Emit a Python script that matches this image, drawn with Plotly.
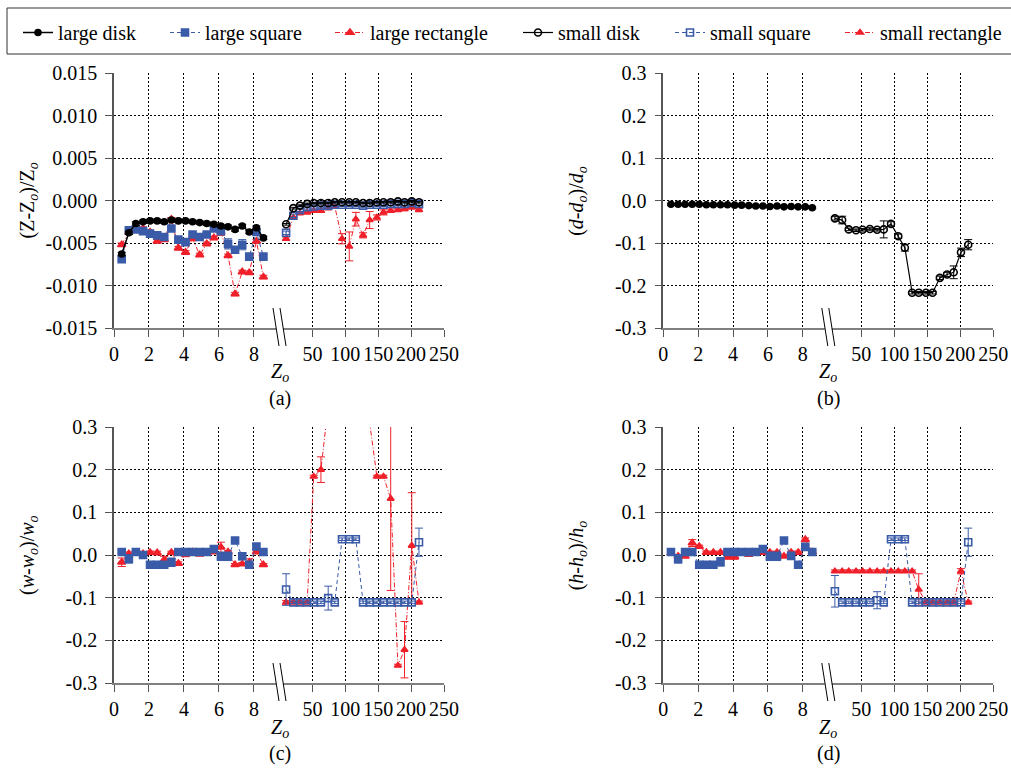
import plotly.graph_objects as go

W, H = 1011, 768
FONT = "Liberation Serif, Times New Roman, DejaVu Serif, serif"

BLACK = "#000000"
BLUE = "#3a5ba8"
RED = "#f0202a"

# ---- Z_o positions ----------------------------------------------------------
z_large = [0.44, 0.85, 1.25, 1.66, 2.06, 2.47, 2.87, 3.28, 3.68, 4.09, 4.49,
           4.90, 5.30, 5.71, 6.11, 6.52, 6.92, 7.33, 7.73, 8.14, 8.54]
z_small = [10, 21, 31, 42, 52, 63, 74, 84, 95, 106, 116, 127, 137, 148, 158,
           169, 180, 190, 201, 212]

# ---- (a) relative change of Z ---------------------------------------------
a_large_disk = [-0.0063, -0.0038, -0.0027, -0.0025, -0.0024, -0.0024, -0.0025,
                -0.0023, -0.0024, -0.0024, -0.0025, -0.0026, -0.0027, -0.0028,
                -0.0030, -0.0031, -0.0034, -0.0030, -0.0037, -0.0032, -0.0044]
a_large_disk_err = [0.0002] * 21
a_large_square = [-0.0069, -0.0035, -0.0034, -0.0036, -0.0039, -0.0041, -0.0043,
                  -0.0033, -0.0046, -0.0049, -0.0040, -0.0043, -0.0040, -0.0033,
                  -0.0036, -0.0051, -0.0058, -0.0052, -0.0066, -0.0037, -0.0066]
a_large_square_err = [0.0002, 0.0002, 0.0002, 0.0002, 0.0002, 0.0002, 0.0002,
                      0.0002, 0.0002, 0.0002, 0.0002, 0.0002, 0.0002, 0.0002,
                      0.0002, 0.0006, 0.0002, 0.0006, 0.0002, 0.0002, 0.0002]
a_large_rect = [-0.0052, -0.0037, -0.0035, -0.0033, -0.0037, -0.0048, -0.0046,
                -0.0022, -0.0056, -0.0061, -0.0045, -0.0064, -0.0051, -0.0044,
                -0.0037, -0.0065, -0.0110, -0.0084, -0.0085, -0.0048, -0.0090]
a_large_rect_err = [0.0002, 0.0002, 0.0002, 0.0002, 0.0002, 0.0002, 0.0002,
                    0.0002, 0.0002, 0.0002, 0.0002, 0.0002, 0.0002, 0.0002,
                    0.0004, 0.0002, 0.0002, 0.0002, 0.0002, 0.0002, 0.0002]
a_small_disk = [-0.0028, -0.0009, -0.0006, -0.0004, -0.0003, -0.0003, -0.0003,
                -0.0002, -0.0002, -0.0002, -0.0002, -0.0003, -0.0003, -0.0002,
                -0.0002, -0.0002, -0.0001, -0.0002, -0.0001, -0.0002]
a_small_disk_err = [0.0001] * 20
a_small_square = [-0.0038, -0.0018, -0.0011, -0.0008, -0.0007, -0.0006, -0.0006,
                  -0.0005, -0.0005, -0.0005, -0.0005, -0.0006, -0.0005, -0.0005,
                  -0.0005, -0.0004, -0.0004, -0.0004, -0.0003, -0.0004]
a_small_square_err = [0.0002] * 20
a_small_rect = [-0.0045, -0.0020, -0.0015, -0.0014, -0.0012, -0.0012, -0.0009,
                -0.0007, -0.0045, -0.0054, -0.0022, -0.0041, -0.0023, -0.0020,
                -0.0014, -0.0012, -0.0011, -0.0010, -0.0008, -0.0011]
a_small_rect_err = [0.0002, 0.0001, 0.0001, 0.0001, 0.0001, 0.0002, 0.0001,
                    0.0001, 0.0006, 0.0017, 0.0008, 0.0003, 0.0010, 0.0003,
                    0.0003, 0.0002, 0.0002, 0.0002, 0.0002, 0.0002]

# ---- (b) relative change of d ---------------------------------------------
b_large_disk = [-0.009, -0.009, -0.009, -0.009, -0.009, -0.010, -0.010, -0.010,
                -0.010, -0.011, -0.011, -0.012, -0.013, -0.013, -0.014, -0.013,
                -0.015, -0.014, -0.015, -0.015, -0.017]
b_large_disk_err = [0.002] * 21
b_small_disk = [-0.042, -0.046, -0.068, -0.070, -0.069, -0.067, -0.069, -0.068,
                -0.055, -0.084, -0.111, -0.217, -0.217, -0.217, -0.217, -0.182,
                -0.174, -0.169, -0.122, -0.104]
b_small_disk_err = [0.004, 0.009, 0.003, 0.003, 0.003, 0.003, 0.003, 0.020,
                    0.005, 0.005, 0.008, 0.003, 0.003, 0.003, 0.003, 0.004,
                    0.005, 0.015, 0.010, 0.012]

# ---- (c) relative change of w ---------------------------------------------
c_large_square = [0.007, -0.009, 0.007, 0.000, -0.023, -0.023, -0.023, -0.017,
                  0.007, 0.007, 0.007, 0.007, 0.007, 0.014, -0.003, -0.003,
                  0.034, -0.003, -0.023, 0.020, 0.007]
c_large_square_err = [0.004, 0.010, 0.003, 0.003, 0.003, 0.003, 0.003, 0.010,
                      0.003, 0.003, 0.003, 0.003, 0.003, 0.004, 0.010, 0.010,
                      0.006, 0.008, 0.003, 0.006, 0.003]
c_large_rect = [-0.017, 0.003, 0.004, 0.003, 0.006, 0.005, -0.011, 0.006,
                -0.020, 0.001, 0.007, 0.002, 0.004, 0.007, 0.018, 0.007,
                -0.023, -0.021, -0.017, 0.007, -0.023]
c_large_rect_err = [0.010, 0.004, 0.004, 0.003, 0.003, 0.004, 0.008, 0.003,
                    0.004, 0.005, 0.003, 0.003, 0.003, 0.003, 0.012, 0.003,
                    0.003, 0.003, 0.008, 0.003, 0.003]
c_small_square = [-0.081, -0.111, -0.111, -0.111, -0.111, -0.111, -0.101, -0.111,
                  0.037, 0.037, 0.037, -0.111, -0.111, -0.111, -0.111, -0.111,
                  -0.111, -0.111, -0.111, 0.030]
c_small_square_err = [0.037, 0.003, 0.003, 0.003, 0.003, 0.003, 0.028, 0.003,
                      0.003, 0.003, 0.003, 0.003, 0.003, 0.003, 0.003, 0.003,
                      0.003, 0.003, 0.003, 0.033]
c_small_rect = [-0.111, -0.111, -0.111, -0.111, 0.184, 0.200, 0.350, 0.400,
                0.400, 0.400, 0.380, 0.350, 0.310, 0.184, 0.184, 0.132,
                -0.259, -0.222, 0.022, -0.111]
c_small_rect_err = [0.004, 0.003, 0.003, 0.003, 0.003, 0.030, 0.003, 0.003,
                    0.003, 0.003, 0.003, 0.003, 0.003, 0.003, 0.003, 0.215,
                    0.003, 0.066, 0.124, 0.003]

# ---- (d) relative change of h ---------------------------------------------
d_large_square = [0.007, -0.009, 0.007, 0.007, -0.023, -0.023, -0.023, -0.016,
                  0.007, 0.007, 0.007, 0.007, 0.007, 0.014, -0.003, -0.003,
                  0.034, -0.002, -0.023, 0.019, 0.007]
d_large_square_err = [0.003, 0.010, 0.003, 0.004, 0.003, 0.003, 0.003, 0.010,
                      0.003, 0.003, 0.003, 0.003, 0.003, 0.008, 0.010, 0.010,
                      0.006, 0.008, 0.003, 0.006, 0.003]
d_large_rect = [0.005, -0.003, -0.003, 0.028, 0.020, 0.006, 0.006, 0.006,
                -0.004, -0.004, 0.006, 0.001, 0.006, 0.006, 0.006, 0.006,
                -0.003, 0.006, 0.006, 0.036, 0.007]
d_large_rect_err = [0.003, 0.004, 0.003, 0.008, 0.003, 0.003, 0.003, 0.003,
                    0.006, 0.006, 0.003, 0.004, 0.003, 0.003, 0.003, 0.003,
                    0.003, 0.003, 0.003, 0.004, 0.003]
d_small_square = [-0.085, -0.111, -0.111, -0.111, -0.111, -0.111, -0.106, -0.111,
                  0.037, 0.037, 0.037, -0.111, -0.111, -0.111, -0.111, -0.111,
                  -0.111, -0.111, -0.111, 0.030]
d_small_square_err = [0.037, 0.003, 0.003, 0.003, 0.003, 0.003, 0.020, 0.003,
                      0.003, 0.003, 0.003, 0.003, 0.003, 0.003, 0.003, 0.003,
                      0.003, 0.003, 0.003, 0.033]
d_small_rect = [-0.038, -0.038, -0.038, -0.038, -0.038, -0.038, -0.038, -0.038,
                -0.038, -0.038, -0.038, -0.038, -0.081, -0.111, -0.111, -0.111,
                -0.111, -0.111, -0.038, -0.111]
d_small_rect_err = [0.003, 0.003, 0.003, 0.003, 0.003, 0.003, 0.003, 0.003,
                    0.003, 0.003, 0.003, 0.003, 0.037, 0.003, 0.003, 0.003,
                    0.003, 0.003, 0.006, 0.003]

# ---- tick labels -------------------------------------------------------------
z_left_ticks = [0, 2, 4, 6, 8]
z_right_ticks = [50, 100, 150, 200, 250]
z_vals = [-0.015, -0.010, -0.005, 0.0, 0.005, 0.010, 0.015]
z_text = ["-0.015", "-0.010", "-0.005", "0.000", "0.005", "0.010", "0.015"]
r_vals = [-0.3, -0.2, -0.1, 0.0, 0.1, 0.2, 0.3]
r_text = ["-0.3", "-0.2", "-0.1", "0.0", "0.1", "0.2", "0.3"]

series_names = ["large disk", "large square", "large rectangle",
                "small disk", "small square", "small rectangle"]
# left edge (px) of each legend entry's label
legend_text_x = [58, 205, 370, 558, 710, 880]

STYLES = {
    "large disk": dict(color=BLACK, dash="solid", width=1.5, symbol="circle", size=6),
    "large square": dict(color=BLUE, dash="4px,3px", width=1, symbol="square", size=7),
    "large rectangle": dict(color=RED, dash="5px,2px,1px,2px", width=1, symbol="triangle-up", size=7),
    "small disk": dict(color=BLACK, dash="solid", width=1.2, symbol="circle-open", size=7),
    "small square": dict(color=BLUE, dash="4px,3px", width=1, symbol="square-open", size=7),
    "small rectangle": dict(color=RED, dash="5px,2px,1px,2px", width=1, symbol="triangle-up", size=6),
}


def px(x):
    return x / W


def py(y):
    return 1 - y / H


def legend_id(name):
    i = series_names.index(name)
    return "legend" if i == 0 else f"legend{i + 1}"


fig = go.Figure()


def add_series(name, x, y, err, xa, ya, legend=False):
    s = STYLES[name]
    fig.add_trace(go.Scatter(
        x=x, y=y, xaxis=xa, yaxis=ya, mode="lines+markers",
        name=name, showlegend=legend, legend=legend_id(name),
        line=dict(color=s["color"], width=s["width"], dash=s["dash"]),
        marker=dict(symbol=s["symbol"], size=s["size"], color=s["color"],
                    line=dict(color=s["color"], width=1.6)),
        error_y=dict(type="data", array=err, color=s["color"], thickness=1, width=4),
        cliponaxis=True,
    ))


# (a)
add_series("large rectangle", z_large, a_large_rect, a_large_rect_err, "x", "y", True)
add_series("large square", z_large, a_large_square, a_large_square_err, "x", "y", True)
add_series("large disk", z_large, a_large_disk, a_large_disk_err, "x", "y", True)
add_series("small rectangle", z_small, a_small_rect, a_small_rect_err, "x2", "y", True)
add_series("small square", z_small, a_small_square, a_small_square_err, "x2", "y", True)
add_series("small disk", z_small, a_small_disk, a_small_disk_err, "x2", "y", True)
# (b)
add_series("large disk", z_large, b_large_disk, b_large_disk_err, "x3", "y2")
add_series("small disk", z_small, b_small_disk, b_small_disk_err, "x4", "y2")
# (c)
add_series("large rectangle", z_large, c_large_rect, c_large_rect_err, "x5", "y3")
add_series("large square", z_large, c_large_square, c_large_square_err, "x5", "y3")
add_series("small rectangle", z_small, c_small_rect, c_small_rect_err, "x6", "y3")
add_series("small square", z_small, c_small_square, c_small_square_err, "x6", "y3")
# (d)
add_series("large rectangle", z_large, d_large_rect, d_large_rect_err, "x7", "y4")
add_series("large square", z_large, d_large_square, d_large_square_err, "x7", "y4")
add_series("small rectangle", z_small, d_small_rect, d_small_rect_err, "x8", "y4")
add_series("small square", z_small, d_small_square, d_small_square_err, "x8", "y4")

# panel geometry in pixels: left edge, break, right edge, top, bottom
panels = {
    "a": dict(x0=114, xb=279.5, x1=444, top=73, bot=328),
    "b": dict(x0=663.3, xb=828.3, x1=993.3, top=73, bot=328),
    "c": dict(x0=114, xb=279.5, x1=444, top=427, bot=683),
    "d": dict(x0=663.3, xb=828.3, x1=993.3, top=427, bot=683),
}
axis_ids = {"a": (1, 2, 1), "b": (3, 4, 2), "c": (5, 6, 3), "d": (7, 8, 4)}

tickfont = dict(family=FONT, size=20, color="black")
grid = dict(showgrid=True, gridcolor="black", gridwidth=1, griddash="2px,2px",
            zeroline=False)

layout_axes = {}
for key, g in panels.items():
    xl, xr, yi = axis_ids[key]
    yname = "y" if yi == 1 else f"y{yi}"
    xlname = "x" if xl == 1 else f"x{xl}"
    common_x = dict(showline=True, linecolor="#808080", linewidth=2,
                    ticks="outside", ticklen=7, tickcolor="#555555",
                    tickfont=tickfont, anchor=yname, **grid)
    layout_axes["xaxis" if xl == 1 else f"xaxis{xl}"] = dict(
        domain=[px(g["x0"]), px(g["xb"])], range=[0, 9.46],
        tickvals=z_left_ticks, ticktext=[str(v) for v in z_left_ticks], **common_x)
    layout_axes[f"xaxis{xr}"] = dict(
        domain=[px(g["xb"]), px(g["x1"])], range=[0, 250],
        tickvals=z_right_ticks, ticktext=[str(v) for v in z_right_ticks], **common_x)
    if key == "a":
        yv, yt, yr = z_vals, z_text, [-0.015, 0.015]
    else:
        yv, yt, yr = r_vals, r_text, [-0.3, 0.3]
    layout_axes["yaxis" if yi == 1 else f"yaxis{yi}"] = dict(
        domain=[py(g["bot"]), py(g["top"])], range=yr, tickvals=yv, ticktext=yt,
        showline=True, linecolor="#555555", linewidth=1.5, ticks="outside",
        ticklen=7, tickcolor="#555555", tickfont=tickfont, anchor=xlname,
        ticklabelstandoff=4, **grid)

# one legend per entry so each label sits at its own position
legends = {}
for i, name in enumerate(series_names):
    key = "legend" if i == 0 else f"legend{i + 1}"
    legends[key] = dict(orientation="h", xref="container", yref="container",
                        x=px(legend_text_x[i] - 40), xanchor="left",
                        y=py(13), yanchor="top", bgcolor="rgba(0,0,0,0)",
                        borderwidth=0,
                        font=dict(family=FONT, size=20, color="black"))

shapes = [dict(type="rect", xref="paper", yref="paper",
               x0=px(7), x1=px(1020), y0=py(54), y1=py(8),
               line=dict(color="#333333", width=1), fillcolor="rgba(0,0,0,0)",
               layer="above")]
# axis-break marks on each lower axis
for key, g in panels.items():
    xb, yb = g["xb"], g["bot"]
    shapes.append(dict(type="rect", xref="paper", yref="paper",
                       x0=px(xb - 3.5), x1=px(xb + 3.5), y0=py(yb + 4), y1=py(yb - 4),
                       fillcolor="white", line=dict(width=0), layer="above"))
    for dx in (-6.5, 0.5):
        shapes.append(dict(type="line", xref="paper", yref="paper",
                           x0=px(xb + dx), y0=py(yb - 20), x1=px(xb + dx + 6), y1=py(yb + 18),
                           line=dict(color="black", width=1), layer="above"))

# axis titles and panel captions
ytitles = {
    "a": "(Z-Z<sub><i>o</i></sub>)/Z<sub><i>o</i></sub>",
    "b": "(<i>d</i>-<i>d</i><sub><i>o</i></sub>)/<i>d</i><sub><i>o</i></sub>",
    "c": "(<i>w</i>-<i>w</i><sub><i>o</i></sub>)/<i>w</i><sub><i>o</i></sub>",
    "d": "(<i>h</i>-<i>h</i><sub><i>o</i></sub>)/<i>h</i><sub><i>o</i></sub>",
}
annotations = []
for key, g in panels.items():
    cy = (g["top"] + g["bot"]) / 2
    annotations.append(dict(text=ytitles[key], xref="paper", yref="paper",
                            x=px(g["x0"] - 86), y=py(cy), textangle=-90,
                            showarrow=False, xanchor="center", yanchor="middle",
                            font=dict(family=FONT, size=20, color="black")))
    annotations.append(dict(text="<i>Z<sub>o</sub></i>", xref="paper", yref="paper",
                            x=px(g["xb"]), y=py(g["bot"] + 45), showarrow=False,
                            xanchor="center", yanchor="middle",
                            font=dict(family=FONT, size=20, color="black")))
    annotations.append(dict(text=f"({key})", xref="paper", yref="paper",
                            x=px(g["xb"]), y=py(g["bot"] + 70), showarrow=False,
                            xanchor="center", yanchor="middle",
                            font=dict(family=FONT, size=20, color="black")))

fig.update_layout(
    width=W, height=H,
    margin=dict(l=0, r=0, t=0, b=0, autoexpand=False),
    paper_bgcolor="white", plot_bgcolor="white",
    font=dict(family=FONT, size=20, color="black"),
    showlegend=True,
    shapes=shapes,
    annotations=annotations,
    **legends,
    **layout_axes,
)

fig.write_html("out.html")
